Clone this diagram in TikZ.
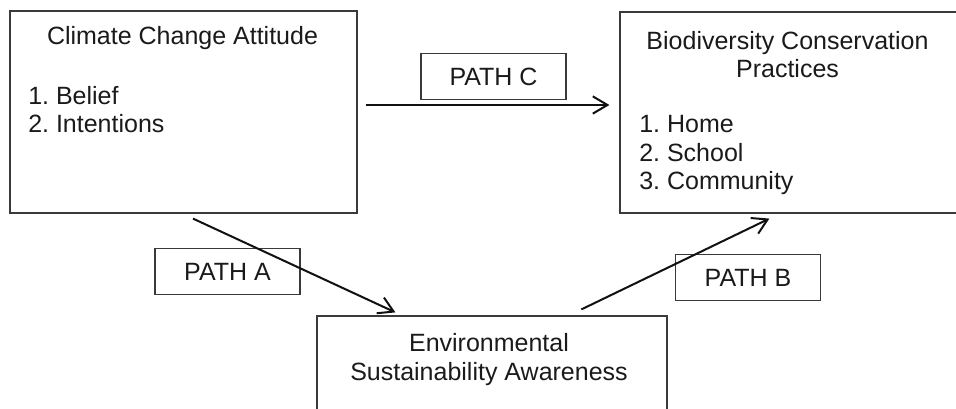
\documentclass[tikz,border=0pt]{standalone}
\usepackage{fontspec}
\setmainfont{Liberation Sans}
\usetikzlibrary{positioning, arrows.meta, calc}
\definecolor{cmline}{HTML}{3A3A3A}
\definecolor{cmtext}{HTML}{1A1A1A}
\definecolor{cmarrow}{HTML}{111111}
\frenchspacing

\begin{document}
\begin{tikzpicture}[x=0.75pt, y=-0.75pt,
    every node/.style={font=\fontsize{18.75}{21.4}\selectfont, text=cmtext, inner sep=0pt},
    varbox/.style 2 args={draw=cmline, line width=0.9pt, minimum width=#1*0.75pt, minimum height=#2*0.75pt},
    pathlabel/.style={varbox={145}{46}},
    patharrow/.style={cmarrow, line width=1.5pt, -{Straight Barb[length=11pt, width=13pt]}}
  ]
        \useasboundingbox (0,0) rectangle (956,409);
        \clip (0,0) rectangle (956,409);
        % the three variable boxes
        \node[varbox={347}{202}] (cca) at (183.5,112) {};
        \node[varbox={355}{201}] (bcp) at (797.5,112.5) {};
        \node[varbox={350}{114}] (esa) at (492,373) {};
        % their texts (base = baseline of the last line)
        \node[anchor=base] (ccatitle) at (182.5,45) {Climate Change Attitude};
        \node[anchor=base west, align=left] (ccalist) at (28,133) {1. Belief\\2. Intentions};
        \node[anchor=base, align=center] (bcptitle) at (787.5,78) {Biodiversity Conservation\\Practices};
        \node[anchor=base west, align=left] (bcplist) at (639,190) {1. Home\\2. School\\3. Community};
        \node[anchor=base, align=center] (esatitle) at (489,380) {Environmental\\Sustainability Awareness};
        % path labels
        \node[pathlabel] (pathc) at (493.5,76.5) {PATH C};
        \node[pathlabel] (patha) at (227.5,271.5) {PATH A};
        \node[pathlabel] (pathb) at (748,277.5) {PATH B};
        % arrows
        \draw[patharrow] ([shift={(8,-7)}]cca.east) -- ([shift={(-10,-7.5)}]bcp.west);
        \draw[patharrow] ([shift={(9.5,5)}]cca.south) -- ([shift={(79,-3)}]esa.north west);
        \draw[patharrow] ([shift={(265,-6)}]esa.north west) -- ([shift={(150,5)}]bcp.south west);
      \end{tikzpicture}
\end{document}
